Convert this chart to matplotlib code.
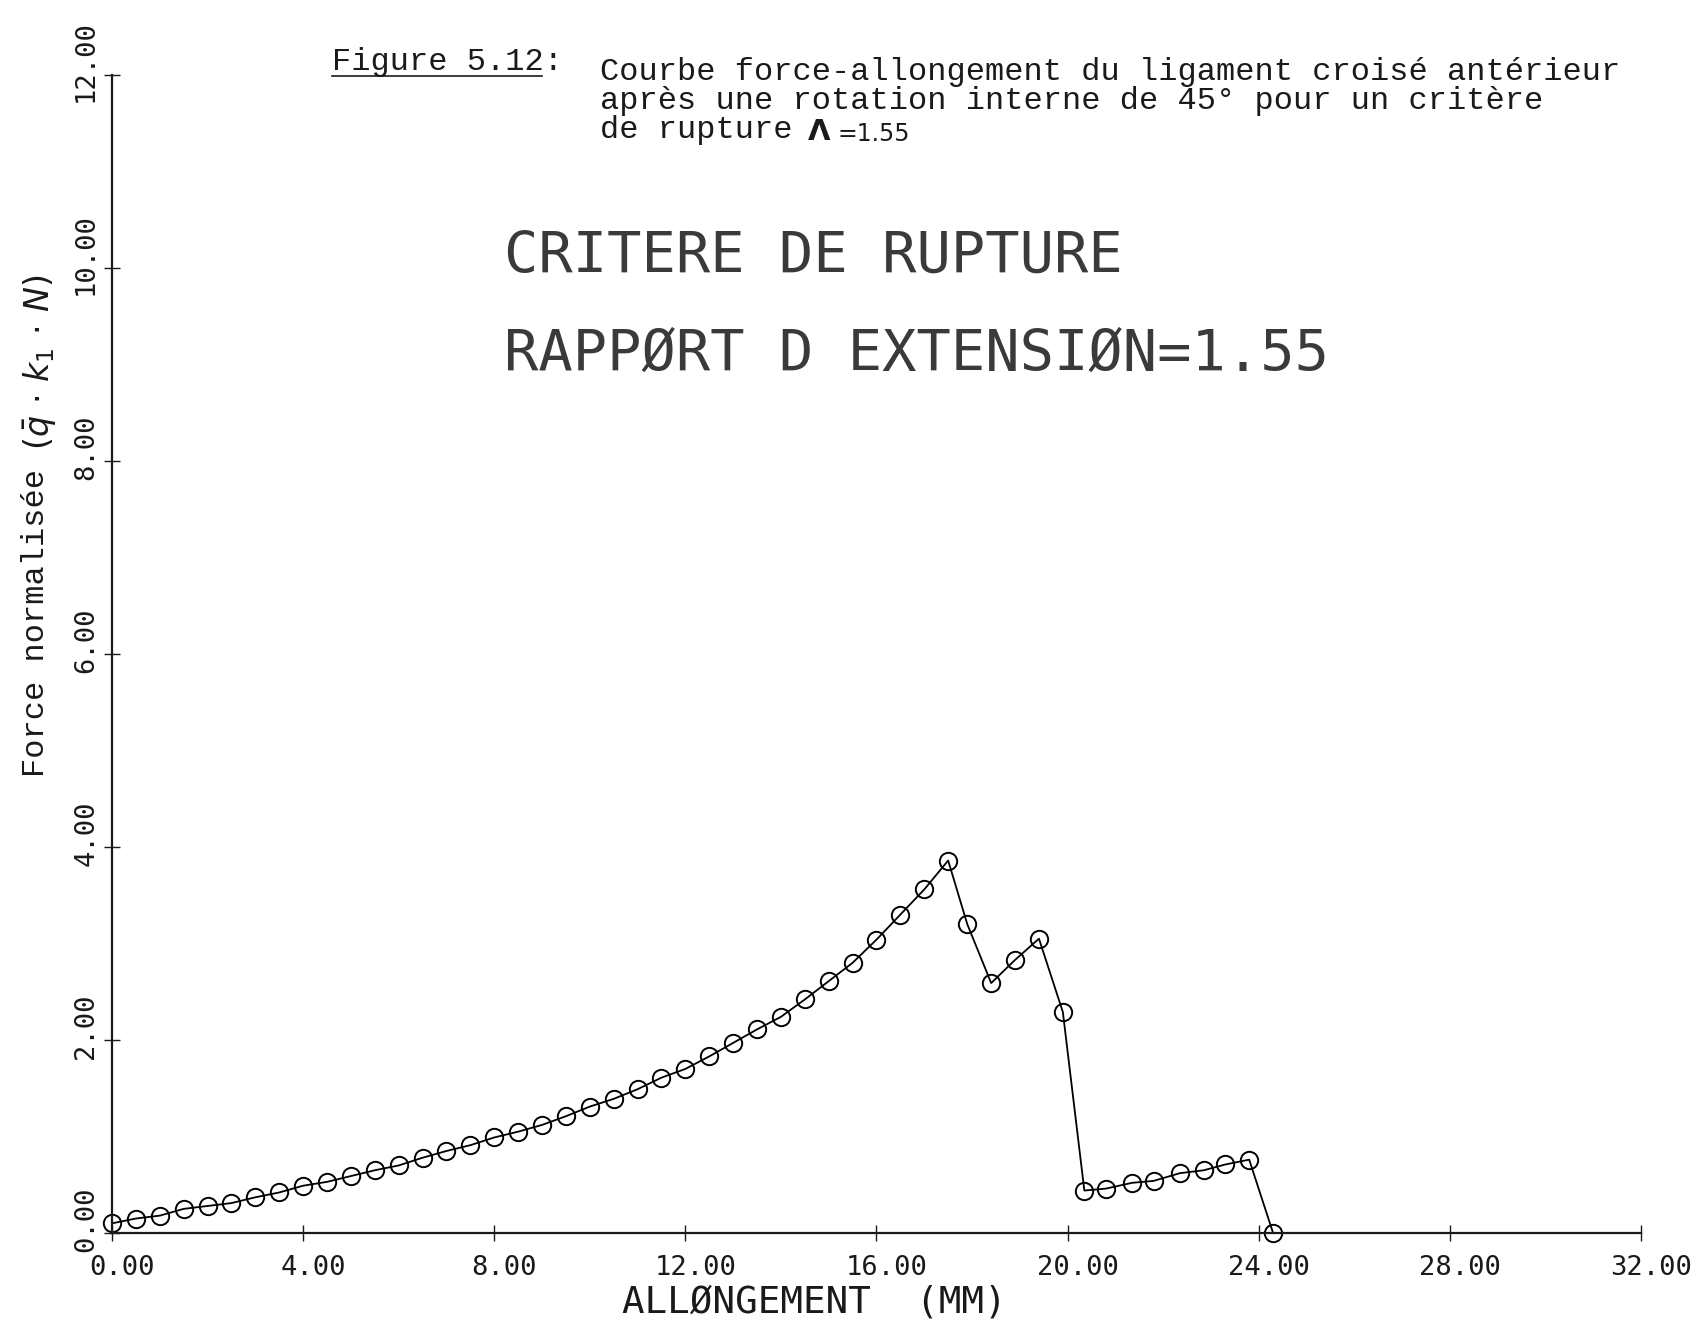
import matplotlib
matplotlib.use('Agg')
import matplotlib.pyplot as plt
from matplotlib.lines import Line2D
from matplotlib.transforms import ScaledTranslation

# values (allongement in mm, force normalisee)
allongement = [0.0, 0.5, 1.0, 1.5, 2.0, 2.5, 3.0, 3.5, 4.0, 4.5,
               5.0, 5.5, 6.0, 6.5, 7.0, 7.5, 8.0, 8.5, 9.0, 9.5,
               10.0, 10.5, 11.0, 11.5, 12.0, 12.5, 13.0, 13.5, 14.0, 14.5,
               15.0, 15.5, 16.0, 16.5, 17.0, 17.5,
               17.9, 18.4, 18.9, 19.4, 19.9, 20.35, 20.8, 21.35, 21.8, 22.35,
               22.85, 23.3, 23.8, 24.3]
force = [0.10, 0.15, 0.18, 0.25, 0.28, 0.31, 0.37, 0.42, 0.49, 0.53,
         0.59, 0.65, 0.70, 0.78, 0.85, 0.91, 0.99, 1.05, 1.12, 1.21,
         1.31, 1.39, 1.49, 1.61, 1.70, 1.83, 1.97, 2.11, 2.24, 2.42,
         2.61, 2.80, 3.04, 3.30, 3.56, 3.86,
         3.20, 2.59, 2.83, 3.05, 2.29, 0.44, 0.46, 0.52, 0.54, 0.62,
         0.65, 0.71, 0.76, 0.00]

xticks = [0, 4, 8, 12, 16, 20, 24, 28, 32]
yticks = [0, 2, 4, 6, 8, 10, 12]

title_fig = 'Figure 5.12:'
title_lines = ['Courbe force-allongement du ligament croisé antérieur',
               'après une rotation interne de 45° pour un critère',
               'de rupture']
plot_lines = ['CRITERE DE RUPTURE', 'RAPPØRT D EXTENSIØN=1.55']

W, H = 1706, 1325
MONO = 'Liberation Mono'
PLOTTER = 'DejaVu Sans Mono'
INK = '#1a1a1a'


def fx(px):
    return px / W


def fy(py):
    return 1 - py / H


fig = plt.figure(figsize=(W / 100, H / 100), dpi=100, facecolor='white')
ax = fig.add_axes([fx(112), fy(1233), (1641 - 112) / W, (1233 - 75) / H])

ax.plot(allongement, force, color='black', lw=1.3, marker='o', ms=12.5,
        mfc='none', mec='black', mew=1.4, clip_on=False)

ax.set_xlim(0, 32)
ax.set_ylim(0, 12)
ax.spines['top'].set_visible(False)
ax.spines['right'].set_visible(False)
for s in ['left', 'bottom']:
    ax.spines[s].set_linewidth(1.6)
    ax.spines[s].set_color(INK)

ax.set_xticks(xticks, ['%.2f' % v for v in xticks], fontfamily=PLOTTER,
              fontsize=19.5, color=INK, ha='center', va='center')
ax.set_yticks(yticks, ['%.2f' % v for v in yticks], fontfamily=PLOTTER,
              fontsize=19.5, color=INK, rotation=90, ha='center', va='center')
ax.tick_params(direction='inout', length=12, width=1.0, color=INK)
ax.xaxis.set_tick_params(pad=19)
ax.yaxis.set_tick_params(pad=12.6)

# plotter labels sit a little off their ticks
for lbl in ax.get_xticklabels():
    lbl.set_transform(lbl.get_transform() + ScaledTranslation(0.10, 0, fig.dpi_scale_trans))
for lbl in ax.get_yticklabels():
    lbl.set_transform(lbl.get_transform() + ScaledTranslation(0, 0.14, fig.dpi_scale_trans))

# axis titles
fig.text(fx(622), fy(1302), 'ALLØNGEMENT  (MM)', family=PLOTTER, fontsize=27,
         color=INK, ha='left', va='center')
fig.text(fx(36), fy(623), 'Force normalisée', family=MONO, fontsize=23,
         rotation=90, ha='center', va='center', color=INK)
fig.text(fx(40), fy(362), r'$(\bar{q}\,\cdot\,k_1\,\cdot\,N)$', fontsize=24,
         rotation=90, ha='center', va='center', color=INK)

# caption typed above the plot
fig.text(fx(332), fy(62), title_fig, family=MONO, fontsize=23, color=INK,
         ha='left', va='center')
fig.add_artist(Line2D([fx(332), fx(542)], [fy(76), fy(76)], color=INK, lw=1.2))
for i, line in enumerate(title_lines):
    fig.text(fx(600), fy(72 + 29 * i), line, family=MONO, fontsize=23,
             color=INK, ha='left', va='center')
fig.text(fx(808), fy(132), 'Λ', family='DejaVu Sans', fontsize=21,
         fontweight='bold', color=INK, ha='left', va='center')
fig.text(fx(838), fy(134), '=1.55', family='DejaVu Sans', fontsize=17,
         color=INK, ha='left', va='center')

# plotter annotation inside the frame
for i, line in enumerate(plot_lines):
    fig.text(fx(504), fy(257 + 98 * i), line, family=PLOTTER, fontsize=41,
             color='#3a3a3a', ha='left', va='center')

fig.savefig('out.png', dpi=100, facecolor='white')
